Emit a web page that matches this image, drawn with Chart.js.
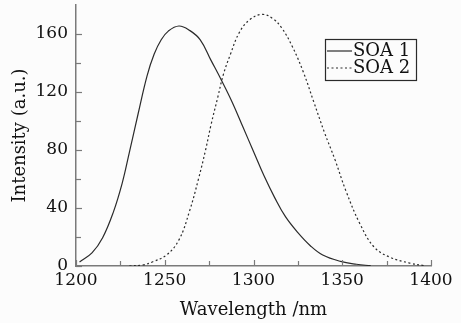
<!DOCTYPE html>
<html>
<head>
<meta charset="utf-8">
<script src="https://cdn.jsdelivr.net/npm/chart.js@4/dist/chart.umd.min.js"></script>
<style>
  html, body { margin: 0; padding: 0; background: #fcfcfc; }
  #wrap { width: 461px; height: 323px; }
</style>
</head>
<body>
<div id="wrap"><canvas id="chart" width="461" height="323"></canvas></div>
<script>
// values
const soa1Wavelength = [1202, 1209, 1215, 1221, 1226, 1230, 1235, 1240, 1244, 1248, 1252, 1258, 1264, 1270, 1276, 1282, 1288, 1294, 1300, 1306, 1312, 1318, 1325, 1332, 1339, 1349, 1358, 1366];
const soa1Intensity = [2.8, 9, 19.5, 37, 57, 78, 105, 131, 146, 156, 162, 165.5, 162.5, 156, 142, 128, 113, 96, 79, 62, 47, 34, 23, 14, 7.6, 3.2, 1.2, 0.2];
const soa2Wavelength = [1230, 1238, 1243, 1251, 1258, 1264, 1269, 1273, 1276, 1280, 1283, 1287, 1292, 1298, 1305, 1311, 1316, 1322, 1328, 1334, 1340, 1346, 1352, 1360, 1368, 1377, 1388, 1396];
const soa2Intensity = [0, 0.8, 2.8, 7.6, 18, 38, 60, 80, 97, 117, 132, 146, 161, 170, 173.5, 170.5, 164, 151, 134, 113, 92, 73, 52, 29, 13, 6, 2, 0.3];

const seriesLabels = ["SOA 1", "SOA 2"];
const xTicks = [1200, 1250, 1300, 1350, 1400];
const xMinorTicks = [1225, 1275, 1325, 1375];
const yTicks = [0, 40, 80, 120, 160];
const yMinorTicks = [20, 60, 100, 140];

const toPoints = (xs, ys) => xs.map((x, i) => ({ x: x, y: ys[i] }));

const axisColor = "#7a7a7a";
const inkColor = "#2a2a2a";
const serif = "'DejaVu Serif', serif";

// ticks pointing into the plot, like the original figure
const innerTicks = {
    id: "innerTicks",
    afterDraw(chart) {
        const { ctx, scales: { x, y } } = chart;
        ctx.save();
        ctx.strokeStyle = axisColor;
        ctx.lineWidth = 1.2;
        const xTick = (v, len) => {
            const px = Math.round(x.getPixelForValue(v)) + 0.5;
            ctx.beginPath();
            ctx.moveTo(px, y.bottom);
            ctx.lineTo(px, y.bottom - len);
            ctx.stroke();
        };
        const yTick = (v, len) => {
            const py = Math.round(y.getPixelForValue(v)) + 0.5;
            ctx.beginPath();
            ctx.moveTo(x.left, py);
            ctx.lineTo(x.left + len, py);
            ctx.stroke();
        };
        xTicks.forEach(v => xTick(v, 6));
        xMinorTicks.forEach(v => xTick(v, 5));
        yTicks.forEach(v => yTick(v, 6));
        yMinorTicks.forEach(v => yTick(v, 5));
        ctx.restore();
    }
};

// boxed legend inside the plot, top right
const boxLegend = {
    id: "boxLegend",
    afterDraw(chart) {
        const { ctx, chartArea } = chart;
        const left = chartArea.right - 106;
        const top = chartArea.top + 34;
        const w = 91, h = 41;
        ctx.save();
        ctx.strokeStyle = inkColor;
        ctx.lineWidth = 1.2;
        ctx.strokeRect(left + 0.5, top + 0.5, w, h);
        ctx.font = "18px " + serif;
        ctx.textBaseline = "middle";
        ctx.fillStyle = "#111";
        chart.data.datasets.forEach((ds, i) => {
            const cy = top + 12 + i * 17;
            ctx.beginPath();
            ctx.setLineDash(ds.borderDash || []);
            ctx.strokeStyle = ds.borderColor;
            ctx.lineWidth = ds.borderWidth;
            ctx.moveTo(left + 2, cy);
            ctx.lineTo(left + 27, cy);
            ctx.stroke();
            ctx.setLineDash([]);
            ctx.fillText(ds.label, left + 28, cy);
        });
        ctx.restore();
    }
};

const paper = {
    id: "paper",
    beforeDraw(chart) {
        const { ctx, width, height } = chart;
        ctx.save();
        ctx.fillStyle = "#fcfcfc";
        ctx.fillRect(0, 0, width, height);
        ctx.restore();
    }
};

let ctx = document.getElementById("chart");
const chartConfig = {
    type: "line",
    data: {
        datasets: [{
            label: seriesLabels[0],
            data: toPoints(soa1Wavelength, soa1Intensity),
            borderColor: inkColor,
            borderWidth: 1.2,
            pointRadius: 0,
            tension: 0.4,
            fill: false,
        }, {
            label: seriesLabels[1],
            data: toPoints(soa2Wavelength, soa2Intensity),
            borderColor: inkColor,
            borderWidth: 1.2,
            borderDash: [2, 2.5],
            pointRadius: 0,
            tension: 0.4,
            fill: false,
        }]
    },
    options: {
        responsive: false,
        animation: false,
        layout: { padding: { top: 5, right: 30, bottom: 0, left: 0 } },
        plugins: {
            legend: { display: false },
            tooltip: { enabled: false }
        },
        scales: {
            x: {
                type: "linear",
                min: 1200,
                max: 1400,
                afterBuildTicks: s => { s.ticks = xTicks.map(v => ({ value: v })); },
                afterFit: s => { s.height = 57; s.paddingLeft = 0; s.paddingRight = 0; },
                grid: { display: false, drawTicks: false },
                border: { display: true, color: axisColor, width: 1.5 },
                ticks: {
                    padding: 4,
                    color: "#111",
                    font: { family: serif, size: 17 },
                    maxRotation: 0,
                    callback: v => String(v),
                },
                title: {
                    display: true,
                    text: "Wavelength /nm",
                    color: "#111",
                    font: { family: serif, size: 18 },
                    padding: { top: 0, bottom: 2 }
                }
            },
            y: {
                min: 0,
                max: 180,
                afterBuildTicks: s => { s.ticks = yTicks.map(v => ({ value: v })); },
                afterFit: s => { s.width = 76; s.paddingTop = 0; s.paddingBottom = 0; },
                grid: { display: false, drawTicks: false },
                border: { display: true, color: axisColor, width: 1.5 },
                ticks: {
                    padding: 8,
                    color: "#111",
                    font: { family: serif, size: 17 },
                    callback: v => String(v),
                },
                title: {
                    display: true,
                    text: "Intensity (a.u.)",
                    color: "#111",
                    font: { family: serif, size: 18 },
                    padding: { top: 10, bottom: 0 }
                }
            }
        }
    },
    plugins: [paper, innerTicks, boxLegend]
};
let chart = new Chart(ctx, chartConfig);
</script>
</body>
</html>
